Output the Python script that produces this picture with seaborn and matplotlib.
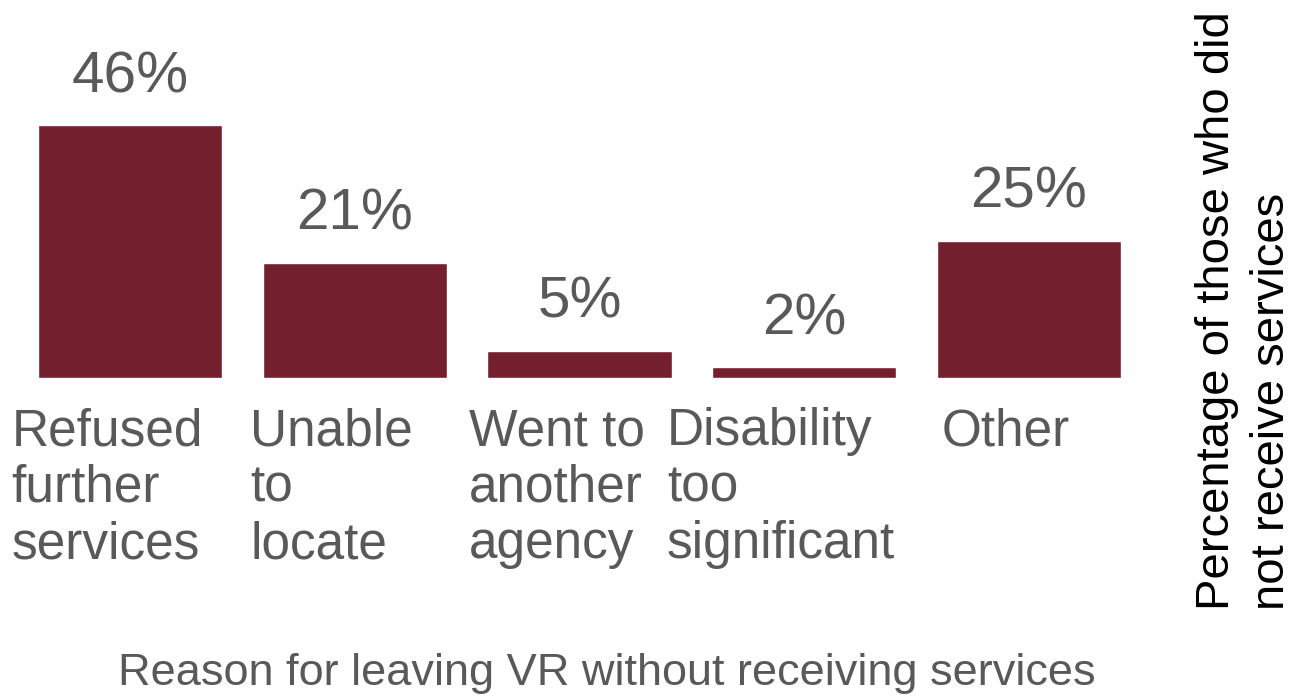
import matplotlib
matplotlib.use("Agg")
import matplotlib.pyplot as plt
from matplotlib.transforms import ScaledTranslation
import seaborn as sns

# Reasons for leaving VR and their share of those who did not receive services
categories = [
    "Refused\nfurther\nservices",
    "Unable\nto\nlocate",
    "Went to\nanother\nagency",
    "Disability\ntoo\nsignificant",
    "Other",
]
percentages = [46, 21, 5, 2, 25]

bar_color = "#731F2E"
text_gray = "#595959"

sns.set_style("white")
plt.rcParams["font.family"] = ["Liberation Sans", "DejaVu Sans"]

fig = plt.figure(figsize=(12.93, 6.98), dpi=100)
ax = fig.add_axes([38 / 1293, (698 - 378) / 698, 1083 / 1293, 275 / 698])

sns.barplot(x=categories, y=percentages, color=bar_color, saturation=1,
            width=0.82, ax=ax)

ax.set_xlim(-0.41, 4.41)
ax.set_ylim(0, 50)

# Value labels above each bar
ax.bar_label(ax.containers[0], labels=[f"{v}%" for v in percentages],
             padding=15, fontsize=42, color=text_gray)

# Category labels: left-aligned blocks below each bar
ax.tick_params(axis="x", length=0, pad=21, labelsize=37, labelcolor=text_gray)
ax.set_yticks([])
shift = ScaledTranslation(-0.23, 0, fig.dpi_scale_trans)
for lbl in ax.get_xticklabels():
    lbl.set_multialignment("left")
    lbl.set_linespacing(1.2)
    lbl.set_transform(lbl.get_transform() + shift)

for s in ax.spines.values():
    s.set_visible(False)

ax.set_xlabel("Reason for leaving VR without receiving services",
              fontsize=32.5, color=text_gray)
ax.xaxis.set_label_coords(0.525, -1.0)
ax.xaxis.label.set_verticalalignment("top")

ax.yaxis.set_label_position("right")
ax.set_ylabel("Percentage of those who did\nnot receive services",
              fontsize=34, color="black", multialignment="left",
              linespacing=1.33)
ax.yaxis.set_label_coords(1.068, 0.244)

fig.savefig("out.png", dpi=100, facecolor="white")
